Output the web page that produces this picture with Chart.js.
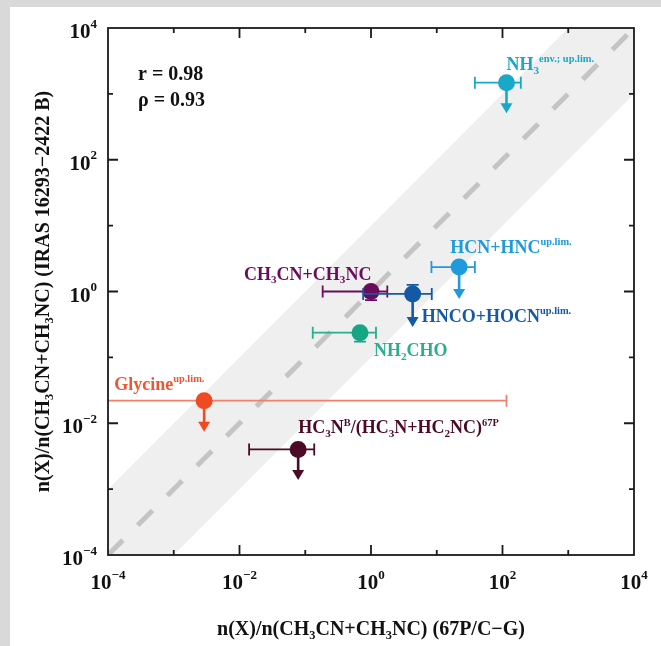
<!DOCTYPE html>
<html>
<head>
<meta charset="utf-8">
<script src="https://cdn.jsdelivr.net/npm/chart.js@4.4.0/dist/chart.umd.min.js"></script>
<style>
  body { margin: 0; background: #d9d9d9; }
  #panel { position: absolute; left: 10px; top: 7px; right: 0; bottom: 0; background: #fff; }
  #chart { position: absolute; left: 0; top: 0; }
</style>
</head>
<body>
<div id="panel"></div>
<canvas id="chart" width="661" height="646"></canvas>
<script>
const SERIF = "'Liberation Serif', 'Times New Roman', serif";

// abundance ratios relative to CH3CN+CH3NC: comet 67P (x) vs IRAS 16293-2422 B (y)
const species = ['NH3', 'HCN+HNC', 'CH3CN+CH3NC', 'HNCO+HOCN', 'NH2CHO', 'Glycine', 'HC3N'];
const cometRatio = [115, 21.9, 1.0, 4.3, 0.68, 0.0029, 0.078];
const protoRatio = [1480, 2.35, 1.0, 0.92, 0.237, 0.022, 0.004];
const cometLow = [38, 8.3, 0.184, 0.76, 0.13, 1e-6, 0.014];
const cometHigh = [190, 38, 1.77, 8.4, 1.19, 115, 0.137];
const protoLow = [null, null, 0.74, null, 0.174, null, null];
const protoHigh = [null, null, null, 1.26, null, null, null];
// upper limits: arrow drawn down to this value
const limitTo = [510, 0.77, null, 0.29, null, 0.0074, 0.00137];

const decades = [-4, -3, -2, -1, 0, 1, 2, 3, 4];
const bandDex = 1; // shaded region: within one order of magnitude of 1:1
const stats = ['r = 0.98', 'ρ = 0.93'];

const colors = ['#18a8c8', '#1f9bdd', '#6a0c5c', '#1459a6', '#17a684', '#ef4a22', '#4c0a26'];
const barColors = ['#18a8c8', '#1f9bdd', '#6a0c5c', '#1459a6', '#2aae8c', '#f4806c', '#4c0a26'];

// label pieces: [text, '' | 'sub' | 'sup']
const labelParts = [
  [['NH', ''], ['3', 'sub'], ['env.; up.lim.', 'sup']],
  [['HCN+HNC', ''], ['up.lim.', 'sup']],
  [['CH', ''], ['3', 'sub'], ['CN+CH', ''], ['3', 'sub'], ['NC', '']],
  [['HNCO+HOCN', ''], ['up.lim.', 'sup']],
  [['NH', ''], ['2', 'sub'], ['CHO', '']],
  [['Glycine', ''], ['up.lim.', 'sup']],
  [['HC', ''], ['3', 'sub'], ['N', ''], ['B', 'sup'], ['/(HC', ''], ['3', 'sub'], ['N+HC', ''], ['2', 'sub'], ['NC)', ''], ['67P', 'sup']]
];
const labelOffset = [[0, -13], [-9, -14], [-127, -12], [9, 28], [14, 23], [-90, -11], [0, -16]];
const labelColors = ['#18a8c8', '#1f9bdd', '#6a0c5c', '#1459a6', '#2aae8c', '#f05533', '#4c0a26'];

function drawRich(ctx, parts, x, y, size, color, align, supScale, supRise) {
  const fontFor = (s) => 'bold ' + s + 'px ' + SERIF;
  const pieces = parts.map(([t, k]) => {
    const s = k === '' ? size : size * (k === 'sub' ? 0.62 : supScale);
    ctx.font = fontFor(s);
    return { t, k, s, w: ctx.measureText(t).width };
  });
  const total = pieces.reduce((a, p) => a + p.w, 0);
  let cx = align === 'center' ? x - total / 2 : align === 'right' ? x - total : x;
  ctx.fillStyle = color;
  ctx.textAlign = 'left';
  ctx.textBaseline = 'alphabetic';
  pieces.forEach(p => {
    ctx.font = fontFor(p.s);
    const dy = p.k === 'sub' ? size * 0.22 : p.k === 'sup' ? -size * supRise : 0;
    ctx.fillText(p.t, cx, y + dy);
    cx += p.w;
  });
}

const errorBars = {
  id: 'errorBars',
  beforeDatasetDraw(chart, args) {
    const ds = chart.data.datasets[args.index];
    if (ds.sp === undefined) return;
    const i = ds.sp;
    const { ctx, chartArea: a, scales: { x, y } } = chart;
    const px = x.getPixelForValue(cometRatio[i]);
    const py = y.getPixelForValue(protoRatio[i]);
    ctx.save();
    ctx.beginPath();
    ctx.rect(a.left, a.top, a.right - a.left, a.bottom - a.top);
    ctx.clip();
    ctx.strokeStyle = barColors[i];
    ctx.lineWidth = 1.8;
    const x0 = x.getPixelForValue(cometLow[i]);
    const x1 = x.getPixelForValue(cometHigh[i]);
    ctx.beginPath();
    ctx.moveTo(x0, py);
    ctx.lineTo(x1, py);
    [x0, x1].forEach(cx => { ctx.moveTo(cx, py - 6); ctx.lineTo(cx, py + 6); });
    ctx.stroke();

    ctx.strokeStyle = colors[i];
    [protoLow[i], protoHigh[i]].forEach(v => {
      if (v === null) return;
      const ey = y.getPixelForValue(v);
      ctx.beginPath();
      ctx.moveTo(px, py);
      ctx.lineTo(px, ey);
      ctx.moveTo(px - 6, ey);
      ctx.lineTo(px + 6, ey);
      ctx.stroke();
    });

    if (limitTo[i] !== null) {
      const tip = y.getPixelForValue(limitTo[i]);
      ctx.lineWidth = 2.6;
      ctx.beginPath();
      ctx.moveTo(px, py);
      ctx.lineTo(px, tip - 9);
      ctx.stroke();
      ctx.fillStyle = colors[i];
      ctx.beginPath();
      ctx.moveTo(px - 6, tip - 10);
      ctx.lineTo(px + 6, tip - 10);
      ctx.lineTo(px, tip);
      ctx.closePath();
      ctx.fill();
    }
    ctx.restore();
  }
};

const frameAndText = {
  id: 'frameAndText',
  afterDatasetsDraw(chart) {
    const { ctx, chartArea: a, scales: { x, y } } = chart;
    ctx.save();
    ctx.strokeStyle = '#1a1a1a';
    ctx.lineWidth = 1.8;
    ctx.strokeRect(a.left, a.top, a.right - a.left, a.bottom - a.top);
    ctx.beginPath();
    decades.forEach(d => {
      if (d === -4 || d === 4) return;
      const len = d % 2 === 0 ? 10 : 5;
      const tx = x.getPixelForValue(Math.pow(10, d));
      const ty = y.getPixelForValue(Math.pow(10, d));
      ctx.moveTo(tx, a.bottom); ctx.lineTo(tx, a.bottom - len);
      ctx.moveTo(tx, a.top); ctx.lineTo(tx, a.top + len);
      ctx.moveTo(a.left, ty); ctx.lineTo(a.left + len, ty);
      ctx.moveTo(a.right, ty); ctx.lineTo(a.right - len, ty);
    });
    ctx.stroke();

    // tick labels on even decades
    decades.filter(d => d % 2 === 0).forEach(d => {
      const exp = d < 0 ? '\u2212' + (-d) : String(d);
      const parts = [['10', ''], [exp, 'sup']];
      const tx = x.getPixelForValue(Math.pow(10, d));
      const ty = y.getPixelForValue(Math.pow(10, d));
      drawRich(ctx, parts, tx, 589, 21, '#111', 'center', 0.62, 0.5);
      drawRich(ctx, parts, 97, ty + 10, 21, '#111', 'right', 0.62, 0.5);
    });

    // species labels
    species.forEach((s, i) => {
      const px = x.getPixelForValue(cometRatio[i]) + labelOffset[i][0];
      const py = y.getPixelForValue(protoRatio[i]) + labelOffset[i][1];
      drawRich(ctx, labelParts[i], px, py, 18, labelColors[i], 'left', 0.58, 0.42);
    });

    // correlation coefficients
    stats.forEach((t, k) => {
      drawRich(ctx, [[t, '']], 138, 80 + k * 26, 20, '#111', 'left', 0.6, 0.4);
    });

    // axis titles
    const titleParts = (tail) => [['n(X)/n(CH', ''], ['3', 'sub'], ['CN+CH', ''], ['3', 'sub'], ['NC) ' + tail, '']];
    drawRich(ctx, titleParts('(67P/C\u2212G)'), (a.left + a.right) / 2, 635, 20, '#111', 'center', 0.6, 0.4);
    ctx.translate(49, (a.top + a.bottom) / 2);
    ctx.rotate(-Math.PI / 2);
    drawRich(ctx, titleParts('(IRAS 16293\u22122422 B)'), 0, 0, 20, '#111', 'center', 0.6, 0.4);
    ctx.restore();
  }
};

const bandPoints = [
  { x: 1e-4, y: 1e-4 },
  { x: 1e-4, y: Math.pow(10, -4 + bandDex) },
  { x: Math.pow(10, 4 - bandDex), y: 1e4 },
  { x: 1e4, y: 1e4 },
  { x: 1e4, y: Math.pow(10, 4 - bandDex) },
  { x: Math.pow(10, -4 + bandDex), y: 1e-4 }
];

const datasets = [
  {
    type: 'line', data: bandPoints, fill: 'shape', backgroundColor: '#efefef',
    borderWidth: 0, pointRadius: 0, order: 10
  },
  {
    type: 'line', data: [{ x: 1e-4, y: 1e-4 }, { x: 1e4, y: 1e4 }], fill: false,
    borderColor: '#c4c4c4', borderWidth: 5, borderDash: [21, 21], pointRadius: 0, order: 5
  }
];
species.forEach((s, i) => {
  datasets.push({
    type: 'scatter', label: s, sp: i, order: -i,
    data: [{ x: cometRatio[i], y: protoRatio[i] }],
    pointRadius: 8.5, pointBackgroundColor: colors[i], pointBorderWidth: 0
  });
});

new Chart(document.getElementById('chart'), {
  type: 'scatter',
  data: { datasets },
  options: {
    responsive: false,
    animation: false,
    events: [],
    layout: { padding: { left: 108, top: 28, right: 27, bottom: 91 } },
    scales: {
      x: { type: 'logarithmic', min: 1e-4, max: 1e4, display: false },
      y: { type: 'logarithmic', min: 1e-4, max: 1e4, display: false }
    },
    plugins: { legend: { display: false }, tooltip: { enabled: false } }
  },
  plugins: [errorBars, frameAndText]
});
</script>
</body>
</html>
